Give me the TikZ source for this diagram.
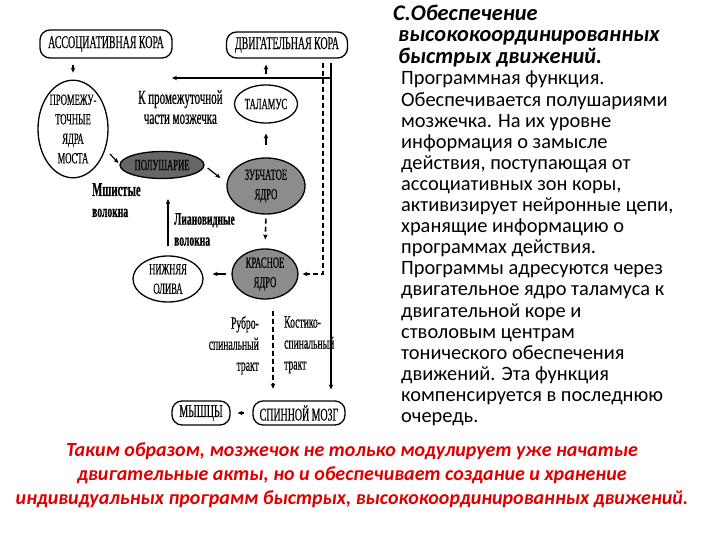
\documentclass[tikz,border=0pt]{standalone}
\usepackage{fontspec}
\setmainfont{Carlito}
\newfontfamily\diagfont[FakeStretch=0.55,FakeBold=0.4]{Liberation Serif}
\usetikzlibrary{shapes.geometric,arrows.meta,positioning}
\definecolor{redtext}{RGB}{222,0,0}
\tikzset{
  cortexbox/.style={draw, line width=1.3pt, rounded corners=10pt, inner xsep=3pt, inner ysep=0pt,
    font=\diagfont\fontsize{18}{18}\selectfont},
  nucleus/.style={draw, ellipse, line width=1.3pt, inner sep=0pt, align=center,
    font=\diagfont\fontsize{15.6}{19.5}\selectfont},
  greynucleus/.style={nucleus, fill=black!45},
  fibre/.style={inner sep=0pt, font=\diagfont\fontsize{17.5}{21}\selectfont},
  link/.style={-{Stealth[length=5pt,width=4.5pt]}, line width=1.2pt},
  tract/.style={link, dash pattern=on 5pt off 3pt, line width=1.6pt},
}

\begin{document}
\begin{tikzpicture}[x=1pt,y=-1pt]
			%%%%% START %%%%%
			\useasboundingbox (0,0) rectangle (720,540);
			
			\node[cortexbox, minimum width=132pt, minimum height=28pt] (assoc) at (106,44) {АССОЦИАТИВНАЯ КОРА};
			\node[cortexbox, minimum width=121pt, minimum height=26pt] (motor) at (287,45) {ДВИГАТЕЛЬНАЯ КОРА};
			
			\node[nucleus, minimum width=70pt, minimum height=93pt] (bridge) at (73,129) {ПРОМЕЖУ-\\ТОЧНЫЕ\\ЯДРА\\МОСТА};
			\node[nucleus, minimum width=63pt, minimum height=38pt] (thalamus) at (266,104) {ТАЛАМУС};
			\node[greynucleus, fill=black!60, minimum width=84pt, minimum height=27pt] (hemisphere) at (162,165) {ПОЛУШАРИЕ};
			\node[greynucleus, minimum width=78pt, minimum height=56pt] (dentate) at (266,186) {ЗУБЧАТОЕ\\ЯДРО};
			\node[greynucleus, minimum width=66pt, minimum height=50pt] (rednuc) at (265,274) {КРАСНОЕ\\ЯДРО};
			\node[nucleus, minimum width=70pt, minimum height=46pt] (olive) at (168,279) {НИЖНЯЯ\\ОЛИВА};
			
			\node[cortexbox, minimum width=58pt, minimum height=24pt] (muscles) at (201,413) {МЫШЦЫ};
			\node[cortexbox, minimum width=92pt, minimum height=24pt] (spinal) at (299,413) {СПИННОЙ МОЗГ};
			
			\coordinate (cortico) at (331,63);
			\coordinate (rubro) at (323,63);
			\coordinate (cerebro) at (172,78);
			
			\draw[link, shorten <=6pt, shorten >=7pt] (bridge.north |- assoc.south) -- (bridge.north);
			\draw[link] ([shift={(37,25)}]bridge.center) -- ([shift={(-1,-2)}]hemisphere.west);
			\draw[link] ([shift={(3,3)}]hemisphere.east) -- ([shift={(-6,-8)}]dentate.west);
			\draw[link, shorten <=12pt, shorten >=10pt] (dentate.north) -- (thalamus.south);
			\draw[link, shorten <=10pt, shorten >=6pt] (thalamus.north) -- (thalamus.north |- motor.south);
			\draw[tract, shorten <=4pt, shorten >=9pt] (dentate.south) -- (rednuc.north);
			\draw[link, shorten <=5pt, shorten >=9pt] (rednuc.west) -- (rednuc.west -| olive.east);
			\draw[link, shorten <=9pt, shorten >=20pt] (olive.north) -- (olive.north |- hemisphere.south);
			\draw[link, shorten <=8pt, shorten >=7pt] (spinal.west) -- (muscles.east);
			
			\draw[link, line width=1.5pt, shorten >=11pt] (cortico) -- (cortico |- spinal.north);
			\draw[link, line width=1.5pt] (cortico |- cerebro) -- (cerebro);
			\draw[tract, shorten >=4pt] (rubro) |- (rednuc.east);
			\draw[tract] ([shift={(8,11)}]rednuc.south) -- ++(0,78);
			
			\node[fibre, font=\diagfont\fontsize{20}{20}\selectfont, anchor=north west, align=center] (cerebrolabel) at (138,90) {К промежуточной\\части мозжечка};
			\node[fibre, font=\diagfont\bfseries\fontsize{17.5}{21}\selectfont, anchor=north west, align=left] (mossy) at (92,183) {{\fontsize{19.5}{19.5}\selectfont Мшистые}\\волокна};
			\node[fibre, font=\diagfont\bfseries\fontsize{17.5}{21}\selectfont, anchor=north west, align=left] (climbing) at (174,213) {Лиановидные\\волокна};
			\node[fibre, anchor=north east, align=right] (rubrolabel) at (259,316) {Рубро-\\спинальный\\тракт};
			\node[fibre, anchor=north west, align=left] (corticolabel) at (284,316) {Костико-\\спинальный\\тракт};
			
			\node[anchor=north west, align=left, inner sep=0pt, font=\bfseries\itshape\fontsize{22.4}{21.2}\selectfont] (title) at (398,5)
			{\hspace*{-5pt}С.Обеспечение\\высококоординированных\\быстрых движений.};
			\node[anchor=north west, align=left, inner sep=0pt, font=\fontsize{20.4}{21.1}\selectfont] (body) at (401,71)
			{Программная функция.\\Обеспечивается полушариями\\мозжечка. На их уровне\\информация о замысле\\действия, поступающая от\\ассоциативных зон коры,\\активизирует нейронные цепи,\\хранящие информацию о\\программах действия.\\Программы адресуются через\\двигательное ядро таламуса к\\двигательной коре и\\стволовым центрам\\тонического обеспечения\\движений. Эта функция\\компенсируется в последнюю\\очередь.};
			
			\node[align=center, inner sep=0pt, text=redtext, font=\bfseries\itshape\fontsize{20}{24}\selectfont] (summary) at (352,475)
			{Таким образом, мозжечок не только модулирует уже начатые\\двигательные акты, но и обеспечивает создание и хранение\\индивидуальных программ быстрых, высококоординированных движений.};
			
			%%%%% END %%%%%
\end{tikzpicture}
\end{document}
